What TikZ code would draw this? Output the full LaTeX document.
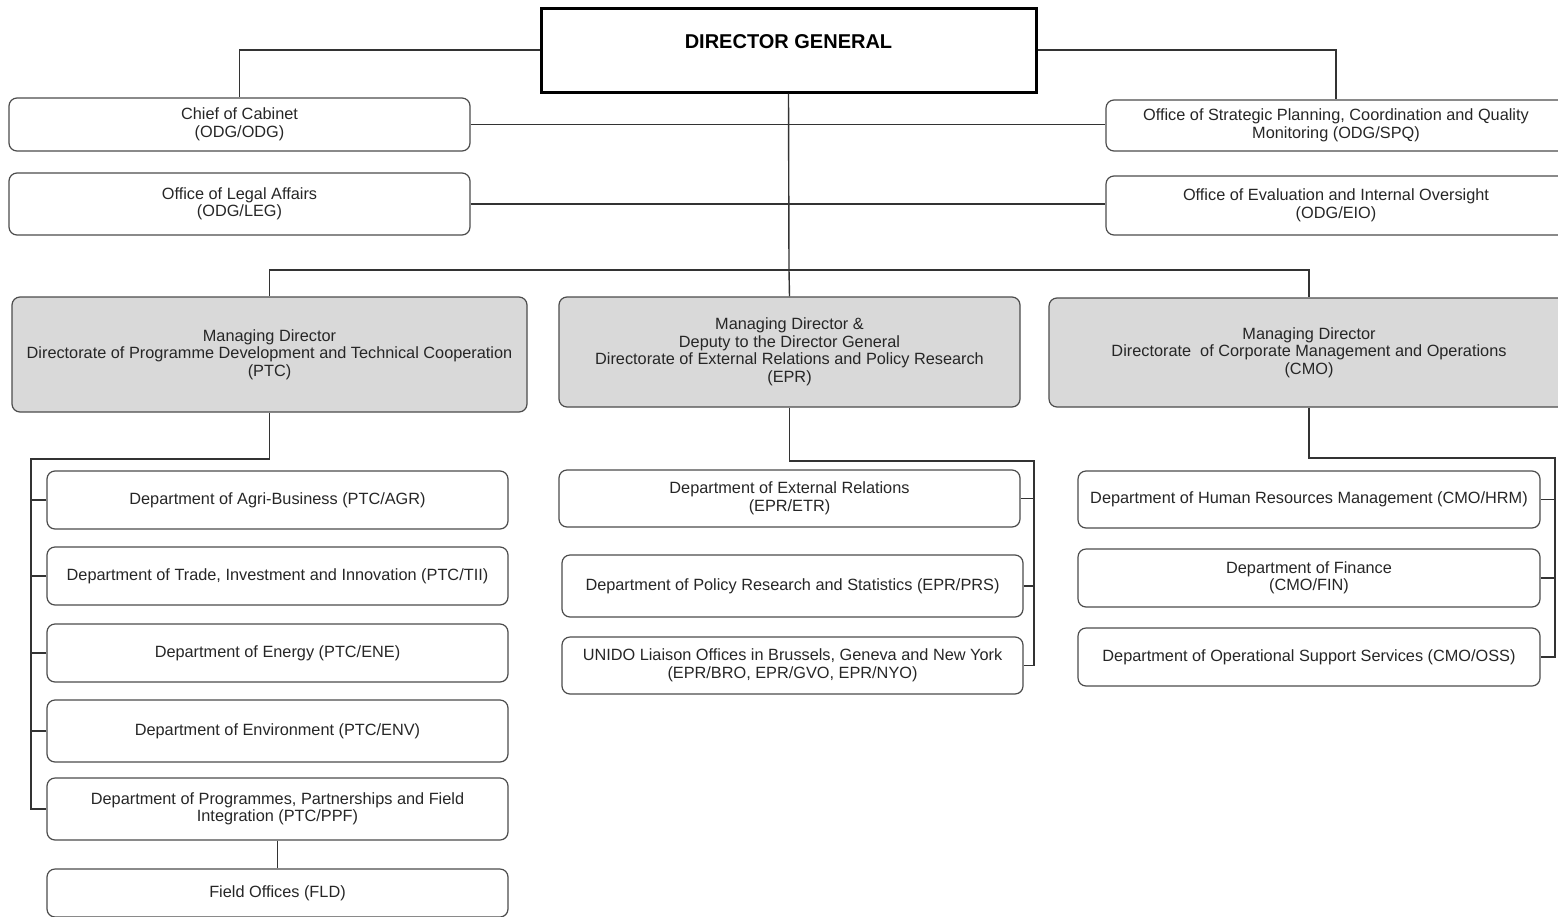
\documentclass[tikz,border=0pt]{standalone}
\usepackage{fontspec}
\setmainfont{Liberation Sans}
\usetikzlibrary{positioning,calc}

\begin{document}
\begin{tikzpicture}[
  x=1pt, y=-1pt,
  orgbox/.style={draw=black!70, line width=1.2pt, rounded corners=8pt, text=black!85,
    align=center, inner sep=0pt, font=\fontsize{16.3}{17.5}\selectfont},
  mdbox/.style={orgbox, fill=gray!30},
  dgbox/.style={draw=black, line width=3pt, inner sep=0pt,
    font=\fontsize{20}{24}\selectfont\bfseries, text height=14pt, text depth=18pt},
  sz/.style 2 args={minimum width=#1pt, minimum height=#2pt},
  link/.style={line width=1.4pt, color=black!80},
  ]
  \useasboundingbox (0,0) rectangle (1558,916);

  % top level
  \node[dgbox, sz={495}{84}] (dg) at (788.5,50) {DIRECTOR GENERAL};

  \node[orgbox, sz={461}{53}] (coc) at (239.5,124.5) {Chief of Cabinet\\(ODG/ODG)};
  \node[orgbox, sz={461}{62}] (leg) at (239.5,204) {Office of Legal Affairs\\(ODG/LEG)};
  \node[orgbox, sz={460}{51}] (spq) at (1336,125.5)
    {Office of Strategic Planning, Coordination and Quality\\Monitoring (ODG/SPQ)};
  \node[orgbox, sz={460}{59}] (eio) at (1336,205.5)
    {Office of Evaluation and Internal Oversight\\(ODG/EIO)};

  % managing directors
  \node[mdbox, sz={515}{115}] (ptc) at (269.5,354.5)
    {Managing Director\\Directorate of Programme Development and Technical Cooperation\\(PTC)};
  \node[mdbox, sz={461}{110}] (epr) at (789.5,352)
    {Managing Director \&\\Deputy to the Director General\\Directorate of External Relations and Policy Research\\(EPR)};
  \node[mdbox, sz={520}{109}] (cmo) at (1309,352.5)
    {Managing Director\\Directorate\ \ of Corporate Management and Operations\\(CMO)};

  % PTC departments
  \node[orgbox, sz={461}{58}] (agr) at (277.5,500) {Department of Agri-Business (PTC/AGR)};
  \node[orgbox, sz={461}{58}] (tii) at (277.5,576) {Department of Trade, Investment and Innovation (PTC/TII)};
  \node[orgbox, sz={461}{58}] (ene) at (277.5,653) {Department of Energy (PTC/ENE)};
  \node[orgbox, sz={461}{62}] (env) at (277.5,731) {Department of Environment (PTC/ENV)};
  \node[orgbox, sz={461}{62}] (ppf) at (277.5,809)
    {Department of Programmes, Partnerships and Field\\Integration (PTC/PPF)};
  \node[orgbox, sz={461}{48}] (fld) at (277.5,893) {Field Offices (FLD)};

  % EPR departments
  \node[orgbox, sz={461}{57}] (etr) at (789.5,498.5) {Department of External Relations\\(EPR/ETR)};
  \node[orgbox, sz={461}{62}] (prs) at (792.5,586) {Department of Policy Research and Statistics (EPR/PRS)};
  \node[orgbox, sz={461}{57}] (uni) at (792.5,665.5)
    {UNIDO Liaison Offices in Brussels, Geneva and New York\\(EPR/BRO, EPR/GVO, EPR/NYO)};

  % CMO departments
  \node[orgbox, sz={462}{57}] (hrm) at (1309,499.5) {Department of Human Resources Management (CMO/HRM)};
  \node[orgbox, sz={462}{58}] (fin) at (1309,578) {Department of Finance\\(CMO/FIN)};
  \node[orgbox, sz={462}{58}] (oss) at (1309,657) {Department of Operational Support Services (CMO/OSS)};

  \coordinate (bus) at (789,270);
  \coordinate (ptcbus) at (31,459);
  \coordinate (eprbus) at (1034,461);
  \coordinate (cmobus) at (1555,458);

  % connectors
  \draw[link] (dg.west) -| (coc.north);
  \draw[link] (dg.east) -| (spq.north);
  \draw[link] (coc.east) -- (coc.east -| spq.west);
  \draw[link] (leg.east) -- (leg.east -| eio.west);
  \draw[link] (dg.south) -- (bus) -- (epr.north);
  \draw[link] (ptc.north) |- (bus) -| (cmo.north);

  \draw[link] (ptc.south) |- (ptcbus) -- (ptcbus |- ppf.west) -- (ppf.west);
  \foreach \n in {agr,tii,ene,env}
    \draw[link] (\n.west) -- (\n.west -| ptcbus);
  \draw[link] (ppf.south) -- (fld.north);

  \draw[link] (epr.south) |- (eprbus) -- (eprbus |- uni.east) -- (uni.east);
  \foreach \n in {etr,prs}
    \draw[link] (\n.east) -- (\n.east -| eprbus);

  \draw[link] (cmo.south) |- (cmobus) -- (cmobus |- oss.east) -- (oss.east);
  \foreach \n in {hrm,fin}
    \draw[link] (\n.east) -- (\n.east -| cmobus);
\end{tikzpicture}
\end{document}
